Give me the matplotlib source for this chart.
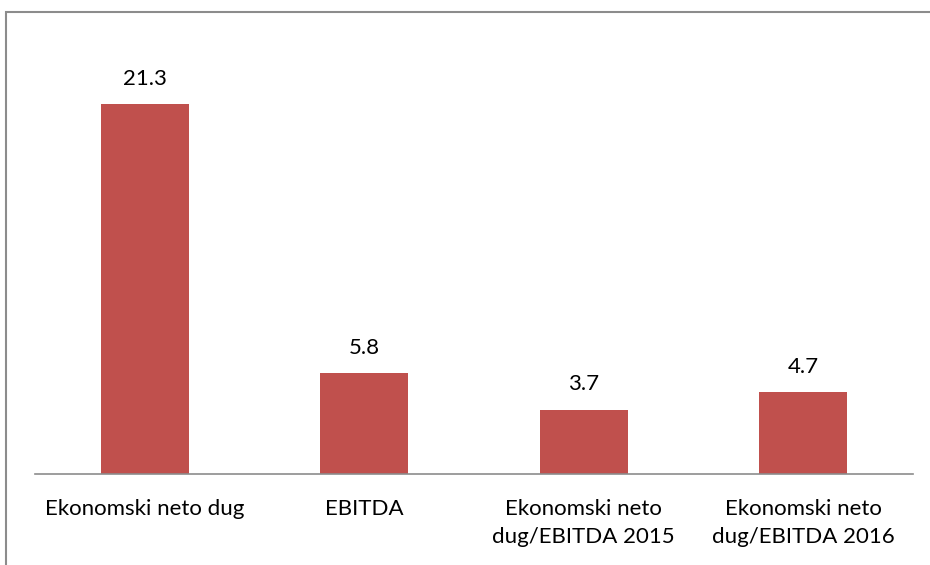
import matplotlib
matplotlib.use("Agg")
import matplotlib.pyplot as plt
from matplotlib.patches import Rectangle

# Datos
kategorije = ["Ekonomski neto dug", "EBITDA", "Ekonomski neto\ndug/EBITDA 2015", "Ekonomski neto\ndug/EBITDA 2016"]
vrijednosti = [21.3, 5.8, 3.7, 4.7]
oznake = ["21.3", "5.8", "3.7", "4.7"]

plt.rcParams["font.family"] = ["Lato", "DejaVu Sans"]

fig = plt.figure(figsize=(9.3, 5.65), dpi=100)

# marco gris del gráfico
fig.patches.append(Rectangle((6 / 930, -0.1), 1.2, 1 - 12 / 565 + 0.1, transform=fig.transFigure,
                             fill=False, edgecolor="#8c8c8c", linewidth=1.5))

ax = fig.add_axes([35 / 930, 1 - 474 / 565, 878 / 930, 434 / 565])
x = range(len(kategorije))
ax.bar(x, vrijednosti, width=0.4, color="#C0504D")
for xi, v, t in zip(x, vrijednosti, oznake):
    ax.annotate(t, (xi, v), xytext=(0, 11), textcoords="offset points",
                ha="center", va="bottom", fontsize=16, color="black")

ax.set_xlim(-0.5, 3.5)
ax.set_ylim(0, 25)
ax.set_yticks([])
ax.set_xticks(list(x))
ax.set_xticklabels(kategorije, fontsize=16, linespacing=1.5, va="top")
ax.tick_params(axis="x", length=0, pad=18)
for s in ["top", "left", "right"]:
    ax.spines[s].set_visible(False)
ax.spines["bottom"].set_color("#8c8c8c")
ax.spines["bottom"].set_linewidth(1.2)

fig.savefig("out.png", dpi=100)
